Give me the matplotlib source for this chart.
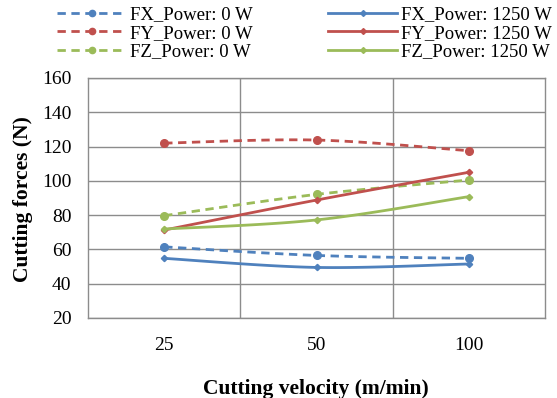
import numpy as np
import matplotlib
matplotlib.use("Agg")
import matplotlib.pyplot as plt
from matplotlib.lines import Line2D

categories = ["25", "50", "100"]
fx_0 = [61.5, 56.5, 54.8]
fy_0 = [122.0, 123.8, 117.6]
fz_0 = [79.7, 92.1, 100.5]
fx_1250 = [54.8, 49.5, 51.5]
fy_1250 = [71.3, 88.8, 105.0]
fz_1250 = [71.9, 77.2, 90.8]
y_ticks = [20, 40, 60, 80, 100, 120, 140, 160]

blue, red, green = "#4F81BD", "#C0504D", "#9BBB59"

plt.rcParams['font.family'] = ['Liberation Serif', 'DejaVu Serif']

fig = plt.figure(figsize=(5.57, 3.98), dpi=100)
W, H = 557, 398
ax = fig.add_axes([88 / W, 1 - 318 / H, (545 - 88) / W, (318 - 78) / H])


def smooth(x, y, n=30):
    # Excel-style smoothed line (Catmull-Rom Bezier, tension 1/6)
    x = np.asarray(x, float); y = np.asarray(y, float)
    px = np.concatenate([[x[0]], x, [x[-1]]])
    py = np.concatenate([[y[0]], y, [y[-1]]])
    xs, ys = [], []
    t = np.linspace(0, 1, n)
    for i in range(1, len(px) - 2):
        p0 = np.array([px[i], py[i]]); p3 = np.array([px[i + 1], py[i + 1]])
        c1 = p0 + (np.array([px[i + 1], py[i + 1]]) - np.array([px[i - 1], py[i - 1]])) / 6
        c2 = p3 - (np.array([px[i + 2], py[i + 2]]) - np.array([px[i], py[i]])) / 6
        b = ((1 - t) ** 3)[:, None] * p0 + (3 * (1 - t) ** 2 * t)[:, None] * c1 \
            + (3 * (1 - t) * t ** 2)[:, None] * c2 + (t ** 3)[:, None] * p3
        xs.append(b[:, 0]); ys.append(b[:, 1])
    return np.concatenate(xs), np.concatenate(ys)


xpos = np.arange(len(categories))
series = [
    (fx_0, blue, "--", "o", 5.5, 4.5, "FX_Power: 0 W"),
    (fy_0, red, "--", "o", 5.5, 4.5, "FY_Power: 0 W"),
    (fz_0, green, "--", "o", 5.5, 4.5, "FZ_Power: 0 W"),
    (fx_1250, blue, "-", "D", 3.2, 3.0, "FX_Power: 1250 W"),
    (fy_1250, red, "-", "D", 3.2, 3.0, "FY_Power: 1250 W"),
    (fz_1250, green, "-", "D", 3.2, 3.0, "FZ_Power: 1250 W"),
]
handles = []
for vals, c, ls, mk, ms, lms, lab in series:
    sx, sy = smooth(xpos, vals)
    ln, = ax.plot(sx, sy, color=c, linestyle=ls, linewidth=2, zorder=3)
    if ls == "--":
        ln.set_dashes((3, 2))
    ax.plot(xpos, vals, linestyle="none", marker=mk, color=c, markersize=ms, zorder=4)
    h = Line2D([], [], color=c, linestyle=ls, linewidth=2, marker=mk, markersize=lms)
    if ls == "--":
        h.set_dashes((3, 2))
    handles.append(h)

ax.set_xlim(-0.5, len(categories) - 0.5)
ax.set_ylim(20, 160)
ax.set_yticks(y_ticks)
ax.set_xticks(xpos)
ax.set_xticklabels(categories)
for xv in xpos[:-1] + 0.5:
    ax.axvline(xv, color="#8C8C8C", linewidth=1, zorder=1)
ax.yaxis.grid(True, color="#8C8C8C", linewidth=1, zorder=1)
ax.set_axisbelow(True)
for s in ax.spines.values():
    s.set_color("#8C8C8C")
    s.set_linewidth(1)
ax.tick_params(axis="both", length=0, labelsize=14)
ax.tick_params(axis="y", pad=12)
ax.tick_params(axis="x", pad=13.5)

fig.text(23 / W, 1 - 199 / H, "Cutting forces (N)", rotation=90, fontsize=15.5,
         fontweight="bold", ha="center", va="center")
fig.text(316 / W, 1 - 389 / H, "Cutting velocity (m/min)", fontsize=15.5,
         fontweight="bold", ha="center", va="center")

fig.legend(handles=handles, labels=[s[6] for s in series], ncol=2, frameon=False,
           loc="upper left", bbox_to_anchor=(57 / W, 1 - 6 / H), fontsize=13.5,
           handlelength=3.7, handletextpad=0.2, columnspacing=4.0,
           labelspacing=0.08, borderaxespad=0, borderpad=0)

fig.savefig("out.png", dpi=100)
